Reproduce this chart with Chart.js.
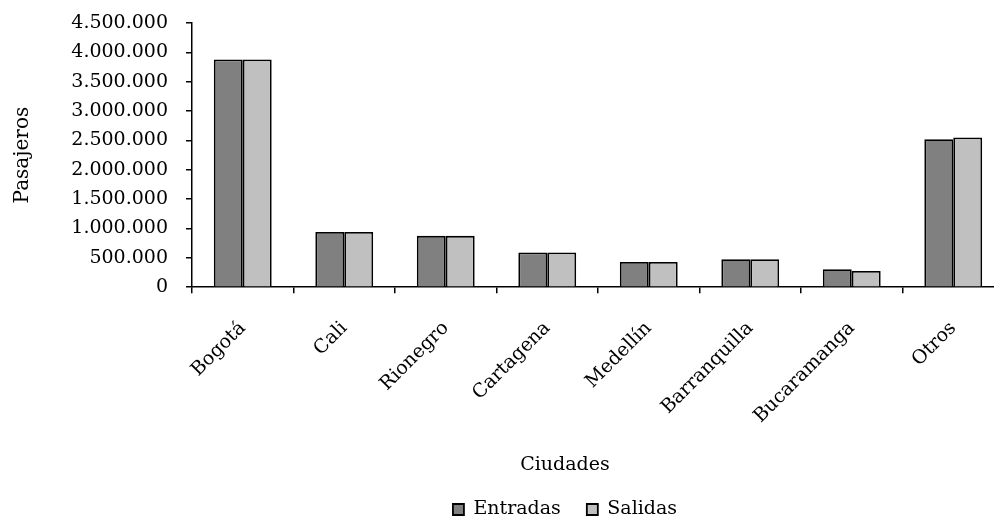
<!DOCTYPE html>
<html>
<head>
<meta charset="utf-8">
<script src="https://cdn.jsdelivr.net/npm/chart.js@4"></script>
<style>
  html, body { margin: 0; padding: 0; background: #fff; overflow: hidden; }
  #wrap { width: 1010px; height: 517px; }
</style>
</head>
<body>
<div id="wrap"><canvas id="chart"></canvas></div>
<script>
const cities = ['Bogotá', 'Cali', 'Rionegro', 'Cartagena', 'Medellín', 'Barranquilla', 'Bucaramanga', 'Otros'];
const entradas = [3880000, 940000, 875000, 590000, 430000, 475000, 305000, 2520000];
const salidas = [3880000, 940000, 875000, 590000, 430000, 475000, 275000, 2550000];
const yTicks = [0, 500000, 1000000, 1500000, 2000000, 2500000, 3000000, 3500000, 4000000, 4500000];

const FONT = 'DejaVu Serif';
const SIZE = 19;

function fmt(v) {
  return String(v).replace(/\B(?=(\d{3})+(?!\d))/g, '.');
}

// put the bottom title and legend where the original has them
const placeBottom = {
  id: 'placeBottom',
  afterLayout(chart) {
    const dx = 63;
    const t = chart.titleBlock, l = chart.legend;
    t.left += dx; t.right += dx;
    l.left += dx; l.right += dx;
    const dyT = 465 - (t.top + t.bottom) / 2;
    t.top += dyT; t.bottom += dyT;
    const dyL = 12;
    l.top += dyL; l.bottom += dyL;
  }
};

new Chart(document.getElementById('chart'), {
  type: 'bar',
  data: {
    labels: cities,
    datasets: [
      { label: 'Entradas', data: entradas, backgroundColor: '#808080', borderColor: '#000', borderWidth: 1.8 },
      { label: 'Salidas', data: salidas, backgroundColor: '#c0c0c0', borderColor: '#000', borderWidth: 1.8 }
    ]
  },
  options: {
    responsive: true,
    maintainAspectRatio: false,
    animation: false,
    categoryPercentage: 0.57,
    barPercentage: 1,
    layout: { padding: { top: 23, right: 6, left: 0, bottom: 0 } },
    plugins: {
      tooltip: { enabled: false },
      title: {
        display: true,
        position: 'bottom',
        weight: 500,
        text: 'Ciudades',
        color: '#000',
        font: { family: FONT, size: SIZE, weight: 'normal' },
        padding: 0
      },
      legend: {
        position: 'bottom',
        labels: {
          color: '#000',
          font: { family: FONT, size: SIZE },
          boxWidth: 11,
          boxHeight: 11,
          padding: 26
        }
      }
    },
    scales: {
      x: {
        afterFit: s => { s.height = 152; },
        grid: { display: true, drawOnChartArea: false, offset: true, color: '#000', tickLength: 6, lineWidth: 1.5 },
        border: { color: '#000', width: 1.5 },
        ticks: {
          color: '#000',
          font: { family: FONT, size: SIZE },
          minRotation: 45,
          maxRotation: 45,
          padding: 24
        }
      },
      y: {
        min: 0,
        max: 4500000,
        afterBuildTicks: s => { s.ticks = yTicks.map(v => ({ value: v })); },
        afterFit: s => { s.width = 192; s.paddingTop = 12; s.paddingBottom = 12; },
        grid: { display: true, drawOnChartArea: false, color: '#000', tickLength: 6, lineWidth: 1.5 },
        border: { color: '#000', width: 1.5 },
        ticks: {
          color: '#000',
          font: { family: FONT, size: SIZE },
          padding: 18,
          callback: v => fmt(v)
        },
        title: {
          display: true,
          text: 'Pasajeros',
          color: '#000',
          font: { family: FONT, size: 20 },
          padding: { top: 11, bottom: 0 }
        }
      }
    }
  },
  plugins: [placeBottom]
});
</script>
</body>
</html>
